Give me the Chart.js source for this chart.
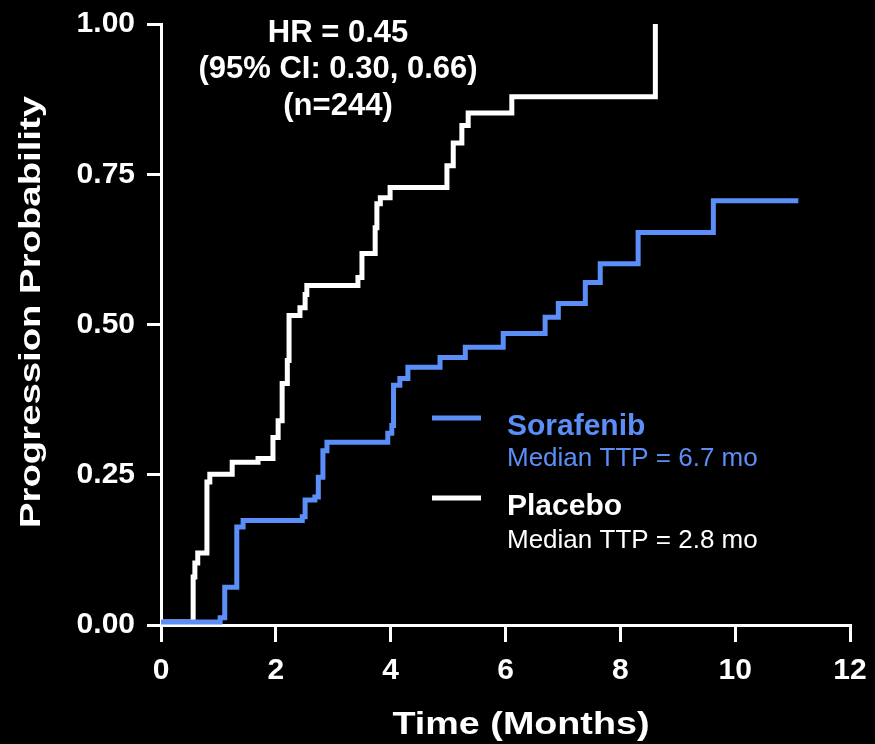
<!DOCTYPE html>
<html>
<head>
<meta charset="utf-8">
<script src="https://cdn.jsdelivr.net/npm/chart.js@4.4.1/dist/chart.umd.min.js"></script>
<style>
  html, body { margin: 0; padding: 0; background: #000; }
  #wrap { width: 875px; height: 744px; position: relative; }
</style>
</head>
<body>
<div id="wrap"><canvas id="km"></canvas></div>
<script>
"use strict";

// time to progression (months / probability)
const sorafenibMonths = [0, 1.03, 1.11, 1.32, 1.43, 2.46, 2.51, 2.68, 2.74, 2.82, 2.89, 3.95, 4.02, 4.05, 4.16, 4.30, 4.86, 5.30, 5.96, 6.69, 6.92, 7.39, 7.65, 8.31, 9.62, 11.1];
const sorafenibProb = [0.005, 0.012, 0.063, 0.163, 0.174, 0.18, 0.208, 0.213, 0.246, 0.29, 0.304, 0.319, 0.332, 0.399, 0.41, 0.429, 0.445, 0.462, 0.485, 0.512, 0.535, 0.57, 0.601, 0.653, 0.706, 0.706];

const placeboMonths = [0, 0.56, 0.59, 0.64, 0.80, 0.85, 1.24, 1.69, 1.95, 2.04, 2.11, 2.20, 2.23, 2.42, 2.51, 2.54, 3.43, 3.50, 3.73, 3.76, 3.82, 3.99, 4.98, 5.09, 5.24, 5.35, 6.11, 8.61];
const placeboProb = [0.005, 0.08, 0.103, 0.12, 0.238, 0.251, 0.271, 0.277, 0.312, 0.34, 0.402, 0.44, 0.515, 0.528, 0.55, 0.565, 0.578, 0.618, 0.661, 0.701, 0.711, 0.728, 0.764, 0.802, 0.831, 0.852, 0.879, 1.0];

const hrLines = ['HR = 0.45', '(95% CI: 0.30, 0.66)', '(n=244)'];
const legendNames = ['Sorafenib', 'Placebo'];
const legendMedians = ['Median TTP = 6.7 mo', 'Median TTP = 2.8 mo'];
const xTitle = 'Time (Months)';
const yTitle = 'Progression Probability';

const BLUE = '#5b8ef6';
const WHITE = '#ffffff';
const FAMILY = '"Liberation Sans", Arial, Helvetica, sans-serif';

const toPoints = (xs, ys) => xs.map((x, i) => ({ x: x, y: ys[i] }));

// stretched text, the titles in the original are wider than plain Arial
function wideText(c, text, font, width) {
    c.font = font;
    const w = c.measureText(text).width;
    c.save();
    c.scale(width / w, 1);
    c.fillText(text, 0, 0);
    c.restore();
}

const decor = {
    id: 'decor',
    afterDraw(chart) {
        const c = chart.ctx;
        const area = chart.chartArea;
        c.save();
        c.fillStyle = WHITE;

        // axis titles
        c.textAlign = 'center';
        c.textBaseline = 'alphabetic';
        c.save();
        c.translate(521, 734);
        wideText(c, xTitle, 'bold 32px ' + FAMILY, 257);
        c.restore();

        c.save();
        c.translate(40, 312);
        c.rotate(-Math.PI / 2);
        wideText(c, yTitle, 'bold 30px ' + FAMILY, 432);
        c.restore();

        // hazard ratio block
        c.font = 'bold 31px ' + FAMILY;
        const hrX = area.left + 177;
        [42, 78, 115].forEach((yy, i) => c.fillText(hrLines[i], hrX, yy));

        // legend
        const colors = [BLUE, WHITE];
        const rows = [{ line: 418, name: 435, med: 466 }, { line: 498, name: 515, med: 548 }];
        c.textAlign = 'left';
        rows.forEach((r, i) => {
            c.strokeStyle = colors[i];
            c.lineWidth = 5;
            c.beginPath();
            c.moveTo(432, r.line);
            c.lineTo(481, r.line);
            c.stroke();
            c.fillStyle = colors[i];
            c.font = 'bold 30px ' + FAMILY;
            c.fillText(legendNames[i], 507, r.name);
            c.font = '26px ' + FAMILY;
            c.fillText(legendMedians[i], 507, r.med);
        });
        c.restore();
    }
};

new Chart(document.getElementById('km'), {
    type: 'line',
    data: {
        datasets: [
            {
                label: legendNames[0],
                data: toPoints(sorafenibMonths, sorafenibProb),
                borderColor: BLUE,
                borderWidth: 5,
                stepped: true,
                pointRadius: 0,
                fill: false,
                clip: 8
            },
            {
                label: legendNames[1],
                data: toPoints(placeboMonths, placeboProb),
                borderColor: WHITE,
                borderWidth: 5,
                stepped: true,
                pointRadius: 0,
                fill: false,
                clip: 8
            }
        ]
    },
    options: {
        responsive: true,
        maintainAspectRatio: false,
        animation: false,
        events: [],
        layout: { padding: { top: 24, right: 25, left: 0, bottom: 0 } },
        plugins: {
            legend: { display: false },
            tooltip: { enabled: false }
        },
        scales: {
            x: {
                type: 'linear',
                min: 0,
                max: 12,
                afterFit: s => { s.height = 119; s.paddingLeft = 0; s.paddingRight = 0; },
                border: { color: WHITE, width: 3 },
                grid: { drawOnChartArea: false, color: WHITE, lineWidth: 3, tickLength: 17 },
                ticks: {
                    stepSize: 2,
                    color: WHITE,
                    padding: 11,
                    maxRotation: 0,
                    font: { family: FAMILY, size: 30, weight: 'bold' }
                }
            },
            y: {
                min: 0,
                max: 1,
                afterFit: s => { s.width = 161; s.paddingTop = 0; s.paddingBottom = 0; },
                border: { color: WHITE, width: 3 },
                grid: { drawOnChartArea: false, color: WHITE, lineWidth: 3, tickLength: 14 },
                ticks: {
                    stepSize: 0.25,
                    color: WHITE,
                    padding: 12,
                    callback: v => v.toFixed(2),
                    font: { family: FAMILY, size: 30, weight: 'bold' }
                }
            }
        }
    },
    plugins: [decor]
});
</script>
</body>
</html>
